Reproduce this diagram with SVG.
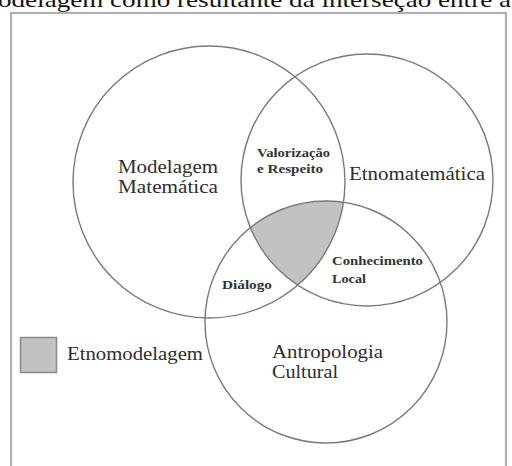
<svg xmlns="http://www.w3.org/2000/svg" width="512" height="466" viewBox="0 0 512 466">
<style>
.circ{fill:none;stroke:#7a7a7a;stroke-width:1.4}
.big{font-family:"Liberation Serif","Times New Roman",serif;font-size:19px;fill:#2e2e2e}
.small{font-family:"Liberation Serif","Times New Roman",serif;font-size:12px;font-weight:bold;fill:#333}
</style>
<rect width="512" height="466" fill="#ffffff"/>
<text x="-2" y="7" font-family="Liberation Serif, serif" font-size="22" fill="#111" textLength="513" lengthAdjust="spacingAndGlyphs">odelagem como resultante da interseção entre a</text>
<rect id="frame" x="11" y="13" width="495" height="460" fill="none" stroke="#b0b0b0" stroke-width="2.2"/>
<g id="intersection">
<path d="M250.3,227.6 A121,121 0 0 1 343.5,202.3 A136,136 0 0 1 297.6,285.2 A126,126 0 0 1 250.3,227.6 Z" fill="#c2c2c2"/>
</g>
<g id="modelagem">
<circle class="circ" cx="209" cy="182" r="136"/>
<text class="big" x="118" y="173" textLength="100" lengthAdjust="spacingAndGlyphs">Modelagem</text>
<text class="big" x="118" y="193" textLength="100" lengthAdjust="spacingAndGlyphs">Matemática</text>
</g>
<g id="etnomatematica">
<circle class="circ" cx="367" cy="180" r="126"/>
<text class="big" x="349" y="180" textLength="136" lengthAdjust="spacingAndGlyphs">Etnomatemática</text>
</g>
<g id="antropologia">
<circle class="circ" cx="326" cy="322" r="121"/>
<text class="big" x="272" y="358" textLength="111" lengthAdjust="spacingAndGlyphs">Antropologia</text>
<text class="big" x="272" y="378" textLength="66" lengthAdjust="spacingAndGlyphs">Cultural</text>
</g>
<g id="valorizacao">
<text class="small" x="257" y="157" textLength="73" lengthAdjust="spacingAndGlyphs">Valorização</text>
<text class="small" x="257" y="173" textLength="66" lengthAdjust="spacingAndGlyphs">e Respeito</text>
</g>
<g id="dialogo">
<text class="small" x="222" y="289" textLength="50" lengthAdjust="spacingAndGlyphs">Diálogo</text>
</g>
<g id="conhecimento">
<text class="small" x="332" y="265" textLength="91" lengthAdjust="spacingAndGlyphs">Conhecimento</text>
<text class="small" x="332" y="283" textLength="34" lengthAdjust="spacingAndGlyphs">Local</text>
</g>
<g id="legend">
<rect x="20.5" y="337.5" width="36" height="35" fill="#c2c2c2" stroke="#8a8a8a" stroke-width="1.5"/>
<text class="big" x="67" y="360" textLength="136" lengthAdjust="spacingAndGlyphs">Etnomodelagem</text>
</g>
</svg>
